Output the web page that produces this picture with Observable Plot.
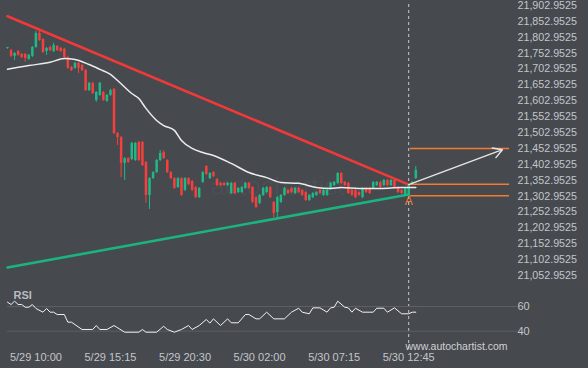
<!DOCTYPE html>
<html><head><meta charset="utf-8">
<script src="https://cdn.jsdelivr.net/npm/d3@7"></script>
<script src="https://cdn.jsdelivr.net/npm/@observablehq/plot@0.6"></script>
<style>
body{margin:0;background:#46494e}
#c{position:relative;width:588px;height:368px;background:#46494e;overflow:hidden}
#c svg{position:absolute;left:0;top:0}
</style>
</head><body><div id="c"></div>
<script>
const open = [21768,21761,21743,21758,21749,21749,21733,21743,21771,21815,
21796,21758,21771,21758,21774,21768,21765,21739,21708,21705,
21721,21714,21698,21635,21658,21604,21620,21629,21601,21620,
21639,21500,21487,21406,21421,21418,21415,21472,21472,21409,
21305,21358,21377,21415,21440,21415,21377,21358,21330,21358,
21321,21358,21349,21330,21298,21346,21396,21358,21377,21355,
21343,21343,21336,21311,21343,21314,21314,21327,21343,21330,
21298,21280,21305,21314,21330,21283,21251,21283,21305,21321,
21327,21311,21327,21321,21314,21289,21298,21305,21321,21305,
21305,21324,21336,21343,21374,21346,21343,21321,21321,21314,
21298,21327,21327,21327,21336,21346,21336,21352,21336,21352,
21330,21321,21305,21305,21339,21358];
const close = [21771,21743,21752,21746,21739,21736,21746,21771,21815,21793,
21755,21768,21761,21777,21761,21758,21739,21705,21698,21721,
21705,21698,21635,21658,21626,21629,21658,21604,21620,21635,
21500,21487,21406,21421,21409,21469,21469,21415,21399,21305,
21358,21377,21415,21437,21421,21377,21358,21327,21358,21305,
21358,21339,21321,21298,21327,21377,21371,21374,21365,21336,
21336,21336,21343,21343,21311,21327,21330,21343,21327,21283,
21267,21305,21327,21330,21298,21248,21298,21305,21327,21311,
21314,21327,21314,21305,21289,21305,21311,21314,21311,21321,
21321,21343,21346,21374,21343,21336,21311,21305,21298,21305,
21327,21314,21311,21346,21346,21330,21352,21336,21352,21330,
21314,21311,21327,21336,21346,21384];
const high = [21771,21765,21755,21761,21752,21752,21749,21774,21821,21824,
21799,21771,21774,21784,21777,21771,21768,21743,21711,21724,
21724,21717,21702,21661,21661,21632,21661,21632,21623,21639,
21642,21503,21491,21424,21424,21472,21472,21475,21475,21412,
21361,21380,21418,21446,21446,21418,21380,21361,21361,21361,
21361,21361,21352,21333,21330,21380,21399,21377,21380,21358,
21346,21346,21346,21346,21346,21330,21333,21346,21346,21333,
21302,21308,21330,21333,21333,21286,21302,21308,21330,21324,
21330,21330,21330,21324,21317,21308,21314,21317,21324,21324,
21324,21346,21349,21377,21377,21349,21346,21324,21324,21317,
21330,21330,21330,21349,21349,21349,21355,21355,21355,21355,
21333,21324,21330,21339,21349,21396];
const low = [21765,21739,21730,21743,21736,21724,21730,21739,21768,21790,
21752,21746,21758,21755,21758,21755,21736,21702,21695,21702,
21689,21695,21632,21632,21623,21598,21617,21601,21598,21617,
21497,21462,21361,21352,21406,21415,21412,21412,21396,21280,
21261,21355,21374,21412,21418,21374,21355,21324,21327,21302,
21317,21336,21317,21295,21295,21343,21368,21355,21361,21333,
21333,21333,21333,21308,21308,21311,21311,21324,21324,21280,
21264,21276,21302,21311,21295,21235,21235,21280,21302,21308,
21311,21308,21311,21302,21286,21286,21295,21302,21308,21302,
21302,21321,21333,21339,21339,21333,21308,21302,21295,21302,
21295,21311,21308,21324,21333,21327,21333,21333,21333,21327,
21311,21308,21302,21302,21336,21355];

const maI = [0,6,12,16,19,23,26,29,31,35,37,39,42,44,47,49,52,55,58,63,68,73,77,82,87,91,94,99,105,111,115];
const maV = [21702,21714,21724,21736,21733,21717,21702,21686,21667,21626,21610,21579,21541,21525,21510,21478,21453,21440,21431,21406,21377,21361,21346,21343,21330,21327,21330,21327,21327,21330,21330];

const resI = [0,113], resV = [21869,21339];
const supI = [0,113], supV = [21078,21308];

const levels = [21452.9525,21340,21304];
const levelI = [113.5,141.4];
const arrowI = [113,139.4], arrowV = [21339,21449];
const signalI = 113, markV = 21287;

const rsiI = [0,1,2,3,4,5,6,7,8,10,11,12,13,14,16,17,18,21,24,25,26,28,30,33,37,38,39,42,44,45,47,49,51,52,54,56,57,58,60,62,63,65,67,68,70,71,73,75,78,80,82,83,85,86,88,90,91,92,93,95,96,97,98,100,103,104,106,107,109,111,113,114,115];
const rsiV = [63.5,61.6,64.3,61.6,61.6,59.4,59.4,61.6,58.4,55.4,58.4,55.4,55.4,53.5,53.5,47.3,47.3,41.4,41.4,44.6,41.4,41.4,44.6,39.2,39.2,41.4,39.2,39.2,44.0,41.4,39.2,41.4,44.6,41.4,44.6,49.5,46.5,50.0,44.6,50.0,46.8,46.8,53.5,53.5,50.0,50.0,55.4,50.0,50.0,55.4,58.6,55.4,54.1,58.9,58.9,55.4,58.9,59.4,64.3,59.4,58.9,55.4,58.6,55.4,55.4,58.6,58.6,55.4,58.9,54.1,54.1,55.4,55.4];
const rsiLevels = [40,60];

const priceTicks = d3.range(18).map(k => 21052.9525 + 50*k);
const tickI = [8,29,50,71,92,113];
const tickLabels = ["5/29 10:00","5/29 15:15","5/29 20:30","5/30 02:00","5/30 07:15","5/30 12:45"];

const RED = "#f5403e", GREEN = "#1eb987", ORANGE = "#f47b30";
const FONT = "'Liberation Sans', Arial, sans-serif";
const candles = open.map((o,i)=>({i,o,c:close[i],h:high[i],l:low[i]}));
const col = d => d.c >= d.o ? GREEN : RED;
const xScale = {type:"linear", domain:[0,115], range:[7,415.3], axis:null};
const common = {width:588, height:368, marginTop:4, marginBottom:18, marginLeft:7, marginRight:71,
  style:{background:"transparent", color:"#c3c6ca", fontFamily:FONT, fontSize:"11px"}};

const main = Plot.plot({
  ...common,
  x: xScale,
  y: {domain:[21052.9525,21902.9525], range:[275,5], axis:null},
  marks: [
    Plot.text(["autochartist"], {x:[76], y:[21333], fontSize:26, fill:"#ffffff", fillOpacity:0.05, textAnchor:"middle"}),
    Plot.axisY(priceTicks, {anchor:"right", label:null, tickSize:0, tickPadding:0, tickFormat:d3.format(",.4f"), fontSize:10.7, fill:"#c3c6ca"}),
    Plot.ruleX([signalI], {stroke:"#c9cbce", strokeDasharray:"3,3", strokeWidth:1}),
    Plot.line(supI.map((x,k)=>({x,y:supV[k]})), {x:"x", y:"y", stroke:"#1bb47f", strokeWidth:2.6}),
    Plot.line(resI.map((x,k)=>({x,y:resV[k]})), {x:"x", y:"y", stroke:"#f03a3a", strokeWidth:2.6}),
    Plot.ruleX(candles, {x:"i", y1:"l", y2:"h", stroke:col, strokeWidth:1}),
    Plot.ruleX(candles, {x:"i", y1:"o", y2:"c", stroke:col, strokeWidth:2.5}),
    Plot.line(maI.map((x,k)=>({x,y:maV[k]})), {x:"x", y:"y", stroke:"#ececec", strokeWidth:1.5, curve:"monotone-x"}),
    Plot.ruleY(levels, {y:d=>d, x1:levelI[0], x2:levelI[1], stroke:ORANGE, strokeWidth:1.4}),
    Plot.arrow([0], {x1:[arrowI[0]], y1:[arrowV[0]], x2:[arrowI[1]], y2:[arrowV[1]], stroke:"#e6e6e6", strokeWidth:1.4, headLength:11, bend:0}),
    Plot.text(["A"], {x:[signalI], y:[markV], fill:ORANGE, fontSize:12, textAnchor:"middle"})
  ]
});

const rsi = Plot.plot({
  ...common,
  x: xScale,
  y: {domain:[40,60], range:[330.7,306], axis:null},
  marks: [
    Plot.ruleY(rsiLevels, {stroke:"#5c6065", strokeWidth:1}),
    Plot.axisY(rsiLevels, {anchor:"right", label:null, tickSize:0, tickPadding:0, fill:"#c3c6ca"}),
    Plot.line(rsiI.map((x,k)=>({x,y:rsiV[k]})), {x:"x", y:"y", stroke:"#f2f2f2", strokeWidth:1}),
    Plot.axisX(tickI, {anchor:"bottom", label:null, tickSize:0, tickPadding:3, tickFormat:d=>tickLabels[tickI.indexOf(d)], fill:"#c3c6ca"}),
    Plot.text(["RSI"], {frameAnchor:"top-left", dx:6, dy:287, fontWeight:"bold", fill:"#b9bcc0", textAnchor:"start", fontSize:11}),
    Plot.text(["www.autochartist.com"], {frameAnchor:"top-left", dx:398, dy:338, fill:"#cfd1d4", textAnchor:"start", fontSize:10.5})
  ]
});

document.getElementById("c").append(main, rsi);
</script></body></html>
